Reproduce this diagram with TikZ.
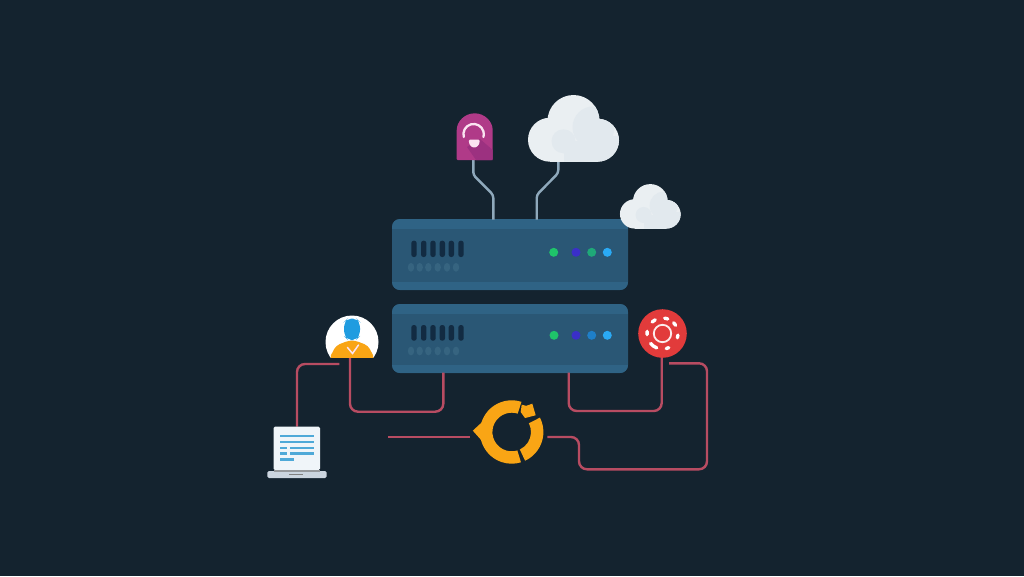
\documentclass[tikz,border=0pt]{standalone}
\usetikzlibrary{calc}
\definecolor{night}{HTML}{14232F}
\definecolor{rackbody}{HTML}{2A5775}
\definecolor{rackband}{HTML}{2F6385}
\definecolor{rackslot}{HTML}{122B42}
\definecolor{rackdot}{HTML}{366480}
\definecolor{ledgreen}{HTML}{1FC46A}
\definecolor{ledteal}{HTML}{1FA878}
\definecolor{ledindigo}{HTML}{3A2FC9}
\definecolor{ledmid}{HTML}{1E7FC8}
\definecolor{ledsky}{HTML}{2AAAF5}
\definecolor{wireblue}{HTML}{8FA9BC}
\definecolor{wirered}{HTML}{B84C62}
\definecolor{cloudlight}{HTML}{EAEFF2}
\definecolor{cloudshade}{HTML}{E2E9EE}
\definecolor{plum}{HTML}{B03A88}
\definecolor{plumdark}{HTML}{9C3180}
\definecolor{pinkwhite}{HTML}{FBE3F1}
\definecolor{amber}{HTML}{F9A515}
\definecolor{hubred}{HTML}{E23B3B}
\definecolor{paper}{HTML}{F0F5F9}
\definecolor{paperline}{HTML}{4FA9D8}
\definecolor{basegrey}{HTML}{CBD5DF}
\definecolor{headblue}{HTML}{1F9CE0}
\tikzset{
  rackunit/.style={fill=rackbody,rounded corners=8pt,inner sep=0pt,minimum width=236pt},
  datawire/.style={draw=wireblue,line width=2.4pt,rounded corners=3pt},
  linkwire/.style={draw=wirered,line width=2.4pt,rounded corners=8pt},
  led/.style={circle,inner sep=0pt,minimum size=9pt},
  petal/.style={draw=white,line width=3.4pt,line cap=round},
  paperrule/.style={draw=paperline,line width=2.3pt},
  cloudshape/.pic={
    \fill[cloudlight] (-23.5,11.4) circle[radius=22];
    \fill[cloudlight] (24,11.9) circle[radius=21.5];
    \fill[cloudlight] (0,-7.3) circle[radius=26];
    \fill[cloudlight] (-23.5,2) rectangle (24,33.4);
    % soft shading in the lower right of the cloud
    \begin{scope}
      \clip (24,11.9) circle[radius=21.5] (0,-7.3) circle[radius=26]
        (24,2) rectangle (-23.5,33.4);
      \fill[cloudshade] (20,-1) circle[radius=21];
      \fill[cloudshade] (-10,13) circle[radius=12];
      \fill[cloudshade] (4,8) rectangle (50,36);
      \fill[cloudshade] (-10,13) rectangle (10,36);
    \end{scope}
  }
}
% One rack unit: name, centre y, height
\newcommand{\rackunit}[3]{
  \node[rackunit,minimum height=#3pt] (#1) at (510,#2) {};
  \begin{scope}
    \clip[rounded corners=8pt] (392,#2-#3/2) rectangle (628,#2+#3/2);
    \fill[rackband] (392,#2-#3/2) rectangle (628,#2-#3/2+9.5);
    \fill[rackband] (392,#2+#3/2-8.5) rectangle (628,#2+#3/2);
  \end{scope}
}
% Vent slots and the faint dots under them: slot top, slot bottom, dot y
\newcommand{\rackvents}[3]{
  \foreach \vx in {414,423.7,433,442.3,451.3,461}
    \fill[rackslot,rounded corners=2.4pt] (\vx-2.7,#1) rectangle (\vx+2.7,#2);
  \foreach \vx in {411,419.7,428.3,437.7,447,456}
    \fill[rackdot] (\vx,#3) ellipse[x radius=3.2,y radius=4.4];
}
% Annular sector of the amber ring, angles counted anticlockwise on screen
\newcommand{\ringpiece}[2]{
  \fill[amber] (-#1:31.7) arc[start angle=-#1,end angle=-#2,radius=31.7]
    -- (-#2:19.3) arc[start angle=-#2,end angle=-#1,radius=19.3] -- cycle;
}
\begin{document}
\begin{tikzpicture}[x=1pt,y=-1pt]
  \useasboundingbox (0,0) rectangle (1024,576);
  \fill[night] (0,0) rectangle (1024,576);

  % Two rack units
  \rackunit{rackA}{254.5}{71}
  \rackunit{rackB}{338.5}{69}

  % Port positions used by the wires
  \coordinate (pinfoot) at (473.3,160);
  \coordinate (pinbend) at (473.3,175);
  \coordinate (cloudfoot) at (558.3,160);
  \coordinate (cloudbend) at (558.3,173);
  \coordinate (rackinL) at (493.3,219.5);
  \coordinate (rackinLb) at (493.3,195);
  \coordinate (rackinR) at (536.7,219.5);
  \coordinate (rackinRb) at (536.7,195);
  \coordinate (personfoot) at (350,357);
  \coordinate (personside) at (339.3,364);
  \coordinate (rackoutL) at (443.3,372.5);
  \coordinate (rackoutR) at (568.7,372.5);
  \coordinate (hubfoot) at (661.7,357);
  \coordinate (hubside) at (669,363.3);
  \coordinate (busleft) at (388.3,437);
  \coordinate (levelL) at (400,411.7);
  \coordinate (levelR) at (610,411);
  \coordinate (ringin) at (470,437);
  \coordinate (ringout) at (547.3,437);
  \coordinate (jogA) at (579,453);
  \coordinate (jogB) at (707,469.3);

  % Uplinks from the top rack unit
  \draw[datawire] (pinfoot) -- (pinbend) -- (rackinLb) -- (rackinL);
  \draw[datawire] (cloudfoot) -- (cloudbend) -- (rackinRb) -- (rackinR);

  % Vents and status lights
  \rackvents{240.7}{257}{267.3}
  \rackvents{325}{340.7}{351}
  \node[led,fill=ledgreen] (a1) at (553.7,252.3) {};
  \node[led,fill=ledindigo] (a2) at (576,252.3) {};
  \node[led,fill=ledteal] (a3) at (591.7,252.3) {};
  \node[led,fill=ledsky] (a4) at (607.3,252.3) {};
  \node[led,fill=ledgreen] (b1) at (554,335.3) {};
  \node[led,fill=ledindigo] (b2) at (576,335.3) {};
  \node[led,fill=ledmid] (b3) at (591.7,335.3) {};
  \node[led,fill=ledsky] (b4) at (607.3,335.3) {};

  % Icon anchors
  \node[inner sep=0pt,minimum width=46pt,minimum height=43.3pt] (screen) at (297,448.4) {};

  % Red links
  \draw[linkwire] (screen.north) |- (personside);
  \draw[linkwire] (personfoot) |- (levelL) -| (rackoutL);
  \draw[linkwire] (rackoutR) |- (levelR) -| (hubfoot);
  \draw[linkwire,rounded corners=0pt] (busleft) -- (ringin);
  \draw[linkwire] (ringout) -| (jogA) |- (jogB) |- (hubside);

  % Headset tag
  \fill[plum,rounded corners=1pt] (456.7,160) -- (456.7,131.3)
    arc[start angle=180,end angle=360,radius=18] -- (492.7,160) -- cycle;
  \fill[plumdark] (480,139) -- (492.7,150) -- (492.7,160) -- (476,160) -- (467,147) -- cycle;
  \draw[pinkwhite,line width=2.3pt,line cap=round] (463.8,137)
    arc[start angle=-196,end angle=16,radius=10.2];
  \fill[pinkwhite,rounded corners=1.5pt] (468.5,139.5) -- (480,139.5) -- (478.8,145.5)
    -- (474.2,148) -- (469.7,145.5) -- cycle;

  % Clouds
  \pic at (573.5,128.3) {cloudshape};
  \pic[scale=0.667] at (650.3,206.3) {cloudshape};

  % Person badge
  \node[circle,inner sep=0pt,minimum size=53pt] (person) at (352,342) {};
  \begin{scope}
    \clip (325,310) rectangle (380,357.5);
    \fill[white] (352,342) circle[radius=26.5];
    \fill[amber,rounded corners=4pt] (329,359) -- (336,345.5) -- (349,340.5) -- (355,340.5)
      -- (368,345.5) -- (375,359) -- cycle;
  \end{scope}
  \fill[headblue,rounded corners=6pt] (344,322) -- (347.5,318.5) -- (356.5,318.5) -- (360,322)
    -- (360,336) -- (356,340) -- (348,340) -- (344,336) -- cycle;
  \draw[pinkwhite,line width=1.5pt,line cap=round] (347.5,347.5) -- (352.5,353.5) -- (358.5,345);

  % Laptop
  \fill[paper,rounded corners=1.5pt] (273.5,426.7) rectangle (320,470);
  \draw[paperrule] (280.3,435.7) -- (314.3,435.7);
  \draw[paperrule] (280.3,441.7) -- (314.3,441.7);
  \draw[paperrule] (280.3,448) -- (287,448);
  \draw[paperrule] (290.3,448) -- (314,448);
  \draw[paperrule] (280.3,453.4) -- (287,453.4);
  \draw[paperrule] (290.3,453.4) -- (314,453.4);
  \draw[paperrule] (280.3,459.4) -- (294.3,459.4);
  \fill[basegrey,rounded corners=1.5pt] (267.3,471) rectangle (326.7,478);
  \fill[gray!70!basegrey] (273.5,470) rectangle (320,471.5);
  \fill[gray] (288.5,473.5) rectangle (303,475);

  % Service hub with ring and petals
  \node[circle,fill=hubred,inner sep=0pt,minimum size=48.6pt] (hub) at (662.5,333.5) {};
  \begin{scope}[shift={(hub.center)}]
    \draw[white!90!hubred,line width=1.8pt] (0,0) circle[radius=8.7];
    \foreach \pa/\pb in {70/82,32/44,-16/-6,-76/-66,-140/-112,172/184,118/132}
      \draw[petal] (-\pa:15.5) arc[start angle=-\pa,end angle=-\pb,radius=15.5];
  \end{scope}

  % Amber ring with its notches
  \node[circle,inner sep=0pt,minimum size=63.4pt] (ring) at (511.7,432) {};
  \begin{scope}[shift={(ring.center)}]
    \ringpiece{72}{287}
    \ringpiece{-65}{27}
    \fill[amber] (-152:29) -- (-178:38.9) -- (-208:29) -- cycle;
    \fill[amber] (10,-27.3) -- (14.5,-26.2) -- (20.6,-28.3) -- (24,-16.7) -- (13.3,-14)
      -- (9,-20) -- cycle;
  \end{scope}
\end{tikzpicture}
\end{document}
